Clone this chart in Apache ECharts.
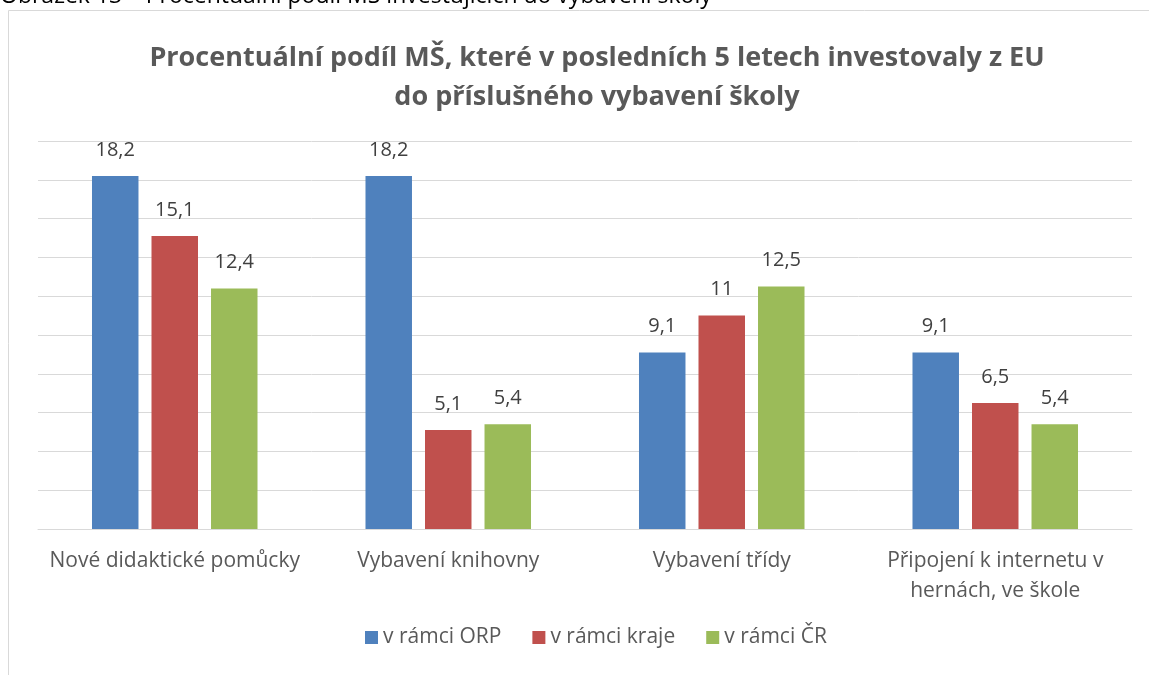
<!DOCTYPE html>
<html>
<head>
<meta charset="utf-8">
<script src="https://cdn.jsdelivr.net/npm/echarts@6/dist/echarts.min.js"></script>
<style>
  html, body { margin: 0; padding: 0; background: #fff; }
  #main { width: 1149px; height: 675px; }
</style>
</head>
<body>
<div id="main"></div>
<script>
var categories = ['Nové didaktické pomůcky', 'Vybavení knihovny', 'Vybavení třídy', 'Připojení k internetu v\nhernách, ve škole'];
var seriesNames = ['v rámci ORP', 'v rámci kraje', 'v rámci ČR'];
var orp = [18.2, 18.2, 9.1, 9.1];
var kraj = [15.1, 5.1, 11, 6.5];
var cr = [12.4, 5.4, 12.5, 5.4];
var colors = ['#4f81bd', '#c0504d', '#9bbb59'];

var font = '"Open Sans", sans-serif';

function fmt(p) {
  return String(p.value).replace('.', ',');
}

function bar(name, data, color) {
  return {
    name: name,
    type: 'bar',
    data: data,
    barWidth: '17%',
    barGap: '28%',
    itemStyle: { color: color },
    label: {
      show: true,
      position: 'top',
      distance: 16,
      formatter: fmt,
      color: '#404040',
      fontSize: 20,
      fontFamily: font
    }
  };
}

var myChart = echarts.init(document.getElementById('main'));
myChart.setOption({
  animation: false,
  title: {
    text: 'Procentuální podíl MŠ, které v posledních 5 letech investovaly z EU\ndo příslušného vybavení školy',
    left: 592,
    top: 34,
    textAlign: 'center',
    textStyle: {
      color: '#595959',
      fontSize: 27,
      fontWeight: 'bold',
      fontFamily: font,
      lineHeight: 39
    }
  },
  graphic: [
    {
      type: 'rect',
      shape: { x: 8.5, y: 10.5, width: 1300, height: 800 },
      style: { fill: 'none', stroke: '#d9d9d9', lineWidth: 1 },
      silent: true
    },
    {
      type: 'text',
      left: 0,
      top: -15,
      style: {
        text: 'Obrázek 13 – Procentuální podíl MŠ investujících do vybavení školy',
        fill: '#000',
        font: '23px ' + font
      }
    }
  ],
  legend: {
    data: seriesNames,
    bottom: 22,
    left: 360,
    itemWidth: 13,
    itemHeight: 13,
    itemGap: 31,
    icon: 'rect',
    textStyle: { color: '#595959', fontSize: 21, fontFamily: font }
  },
  grid: { left: 38, right: 17, top: 141, bottom: 146 },
  xAxis: {
    type: 'category',
    data: categories,
    axisLine: { lineStyle: { color: '#d9d9d9' } },
    axisTick: { show: false },
    axisLabel: {
      color: '#595959',
      fontSize: 21,
      fontFamily: font,
      margin: 17,
      lineHeight: 30,
      interval: 0
    }
  },
  yAxis: {
    type: 'value',
    min: 0,
    max: 20,
    interval: 2,
    axisLabel: { show: false },
    axisLine: { show: false },
    axisTick: { show: false },
    splitLine: { lineStyle: { color: '#d9d9d9' } }
  },
  series: [
    bar(seriesNames[0], orp, colors[0]),
    bar(seriesNames[1], kraj, colors[1]),
    bar(seriesNames[2], cr, colors[2])
  ]
});
</script>
</body>
</html>
